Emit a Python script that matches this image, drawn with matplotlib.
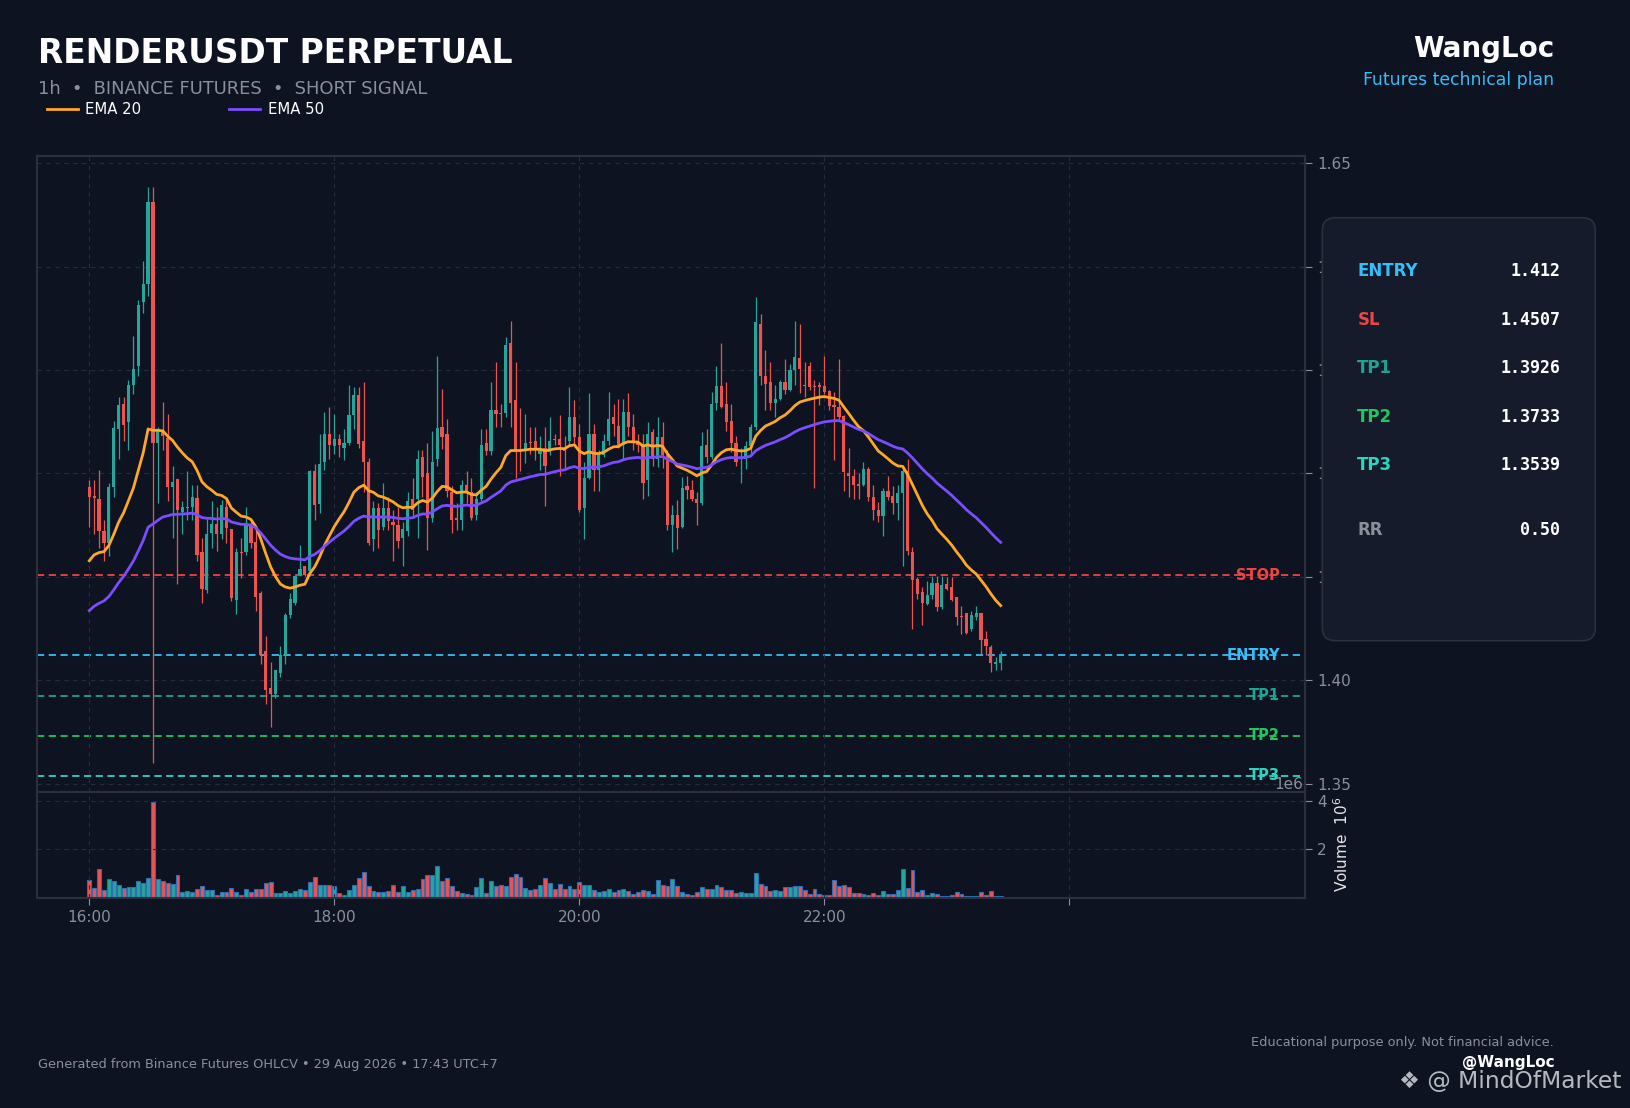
import numpy as np
import matplotlib
matplotlib.use("Agg")
import matplotlib.pyplot as plt
from matplotlib.lines import Line2D
from matplotlib.patches import FancyBboxPatch
from matplotlib.ticker import FuncFormatter

plt.rcParams["font.family"] = ["DejaVu Sans"]

# --- data ---
opens = [1.4937, 1.4893, 1.4877, 1.4720, 1.4663, 1.4937, 1.5214, 1.5338, 1.5248, 1.5428,
         1.5518, 1.5829, 1.5917, 1.6311, 1.5147, 1.5208, 1.5170, 1.4937, 1.4971, 1.4816,
         1.4834, 1.4838, 1.4882, 1.4618, 1.4438, 1.4713, 1.4758, 1.4708, 1.4839, 1.4731,
         1.4389, 1.4618, 1.4618, 1.4753, 1.4668, 1.4420, 1.4141, 1.3961, 1.3932, 1.4033,
         1.4123, 1.4315, 1.4375, 1.4510, 1.4551, 1.4528, 1.5012, 1.4854, 1.5057, 1.5192,
         1.5131, 1.5169, 1.5124, 1.5147, 1.5282, 1.5379, 1.5158, 1.5057, 1.4681, 1.4832,
         1.4742, 1.4832, 1.4765, 1.4749, 1.4686, 1.4720, 1.4877, 1.4877, 1.5080, 1.5000,
         1.4787, 1.5068, 1.5226, 1.5190, 1.4911, 1.4787, 1.4776, 1.4944, 1.4911, 1.4798,
         1.4877, 1.5147, 1.5109, 1.5309, 1.5293, 1.5293, 1.5631, 1.5356, 1.5113, 1.5113,
         1.5152, 1.5158, 1.5095, 1.5124, 1.5102, 1.5169, 1.5169, 1.5118, 1.5158, 1.5271,
         1.5176, 1.4832, 1.4978, 1.5190, 1.5019, 1.5091, 1.5158, 1.5271, 1.5230, 1.5140,
         1.5298, 1.5226, 1.5147, 1.5140, 1.4967, 1.5199, 1.5068, 1.5176, 1.5091, 1.4753,
         1.4798, 1.4742, 1.4938, 1.4918, 1.4877, 1.4855, 1.5140, 1.5080, 1.5343, 1.5422,
         1.5338, 1.5255, 1.5147, 1.5068, 1.5068, 1.5131, 1.5226, 1.5721, 1.5469, 1.5440,
         1.5343, 1.5361, 1.5440, 1.5406, 1.5500, 1.5559, 1.5428, 1.5518, 1.5424, 1.5428,
         1.5422, 1.5401, 1.5332, 1.5320, 1.5278, 1.5001, 1.4989, 1.4951, 1.4944, 1.5023,
         1.4888, 1.4821, 1.4794, 1.4915, 1.4893, 1.4855, 1.4906, 1.5012, 1.4618, 1.4488,
         1.4427, 1.4371, 1.4411, 1.4469, 1.4353, 1.4467, 1.4449, 1.4402, 1.4312, 1.4326,
         1.4247, 1.4308, 1.4326, 1.4200, 1.4159, 1.4078, 1.4083]
highs = [1.4967, 1.4967, 1.5019, 1.4776, 1.4955, 1.5253, 1.5372, 1.5372, 1.5450, 1.5665,
         1.5838, 1.6029, 1.6385, 1.6385, 1.5226, 1.5345, 1.5289, 1.5035, 1.4971, 1.4866,
         1.5010, 1.4944, 1.4944, 1.4686, 1.4780, 1.4866, 1.4839, 1.4870, 1.4870, 1.4731,
         1.4640, 1.4686, 1.4839, 1.4776, 1.4731, 1.4432, 1.4213, 1.4090, 1.4051, 1.4168,
         1.4326, 1.4420, 1.4507, 1.4652, 1.4555, 1.5019, 1.5046, 1.5192, 1.5298, 1.5320,
         1.5289, 1.5192, 1.5215, 1.5428, 1.5417, 1.5417, 1.5440, 1.5073, 1.4866, 1.4855,
         1.4956, 1.4888, 1.4825, 1.4839, 1.4765, 1.4911, 1.4978, 1.5113, 1.5113, 1.5147,
         1.5203, 1.5568, 1.5410, 1.5264, 1.4938, 1.4855, 1.4967, 1.5012, 1.4978, 1.4911,
         1.5215, 1.5215, 1.5440, 1.5541, 1.5338, 1.5658, 1.5739, 1.5541, 1.5316, 1.5289,
         1.5226, 1.5226, 1.5181, 1.5226, 1.5275, 1.5190, 1.5282, 1.5181, 1.5417, 1.5356,
         1.5237, 1.5057, 1.5388, 1.5237, 1.5113, 1.5192, 1.5395, 1.5334, 1.5361, 1.5361,
         1.5388, 1.5289, 1.5192, 1.5192, 1.5248, 1.5215, 1.5275, 1.5248, 1.5113, 1.4848,
         1.4870, 1.4982, 1.4989, 1.4967, 1.4911, 1.5199, 1.5215, 1.5395, 1.5518, 1.5631,
         1.5440, 1.5338, 1.5181, 1.5124, 1.5158, 1.5237, 1.5851, 1.5770, 1.5597, 1.5541,
         1.5428, 1.5450, 1.5552, 1.5530, 1.5739, 1.5721, 1.5541, 1.5541, 1.5450, 1.5440,
         1.5568, 1.5406, 1.5395, 1.5552, 1.5282, 1.5125, 1.5023, 1.5001, 1.5057, 1.5030,
         1.4944, 1.4862, 1.4929, 1.4990, 1.4938, 1.4944, 1.5035, 1.5068, 1.4645, 1.4501,
         1.4449, 1.4480, 1.4503, 1.4503, 1.4503, 1.4501, 1.4501, 1.4404, 1.4359, 1.4326,
         1.4337, 1.4359, 1.4326, 1.4236, 1.4173, 1.4114, 1.4141]
lows = [1.4742, 1.4708, 1.4640, 1.4578, 1.4600, 1.4888, 1.5068, 1.5158, 1.5113, 1.5383,
        1.5469, 1.5775, 1.5860, 1.3601, 1.4859, 1.5113, 1.4866, 1.4686, 1.4465, 1.4708,
        1.4776, 1.4776, 1.4578, 1.4375, 1.4420, 1.4640, 1.4623, 1.4681, 1.4663, 1.4382,
        1.4321, 1.4494, 1.4607, 1.4640, 1.4337, 1.4078, 1.3887, 1.3775, 1.3916, 1.4015,
        1.4078, 1.4303, 1.4366, 1.4506, 1.4506, 1.4506, 1.4776, 1.4810, 1.5019, 1.5068,
        1.5095, 1.5080, 1.5064, 1.5136, 1.5215, 1.5125, 1.4911, 1.4652, 1.4623, 1.4640,
        1.4726, 1.4726, 1.4578, 1.4640, 1.4551, 1.4697, 1.4787, 1.4690, 1.4888, 1.4630,
        1.4765, 1.5035, 1.5118, 1.4888, 1.4713, 1.4726, 1.4726, 1.4855, 1.4776, 1.4776,
        1.4866, 1.5091, 1.5091, 1.5226, 1.5226, 1.5271, 1.5226, 1.4978, 1.5012, 1.5049,
        1.5095, 1.5064, 1.5019, 1.4843, 1.5091, 1.5136, 1.4990, 1.5026, 1.5136, 1.5136,
        1.4816, 1.4681, 1.4973, 1.4915, 1.4915, 1.5080, 1.5136, 1.5181, 1.5124, 1.5068,
        1.5181, 1.5113, 1.5102, 1.4877, 1.4893, 1.5035, 1.5030, 1.5026, 1.4726, 1.4618,
        1.4636, 1.4735, 1.4877, 1.4866, 1.4749, 1.4848, 1.5051, 1.5068, 1.5305, 1.5316,
        1.5203, 1.5102, 1.5035, 1.4956, 1.5023, 1.5091, 1.5208, 1.5428, 1.5305, 1.5305,
        1.5275, 1.5356, 1.5383, 1.5401, 1.5428, 1.5388, 1.5372, 1.5406, 1.4928, 1.5329,
        1.5383, 1.5309, 1.5064, 1.5262, 1.4915, 1.4888, 1.4877, 1.4877, 1.4938, 1.4866,
        1.4776, 1.4765, 1.4697, 1.4870, 1.4803, 1.4776, 1.4555, 1.4607, 1.4247, 1.4393,
        1.4265, 1.4366, 1.4393, 1.4337, 1.4346, 1.4438, 1.4382, 1.4267, 1.4222, 1.4222,
        1.4236, 1.4293, 1.4128, 1.4123, 1.4038, 1.4052, 1.4052]
closes = [1.4887, 1.4880, 1.4720, 1.4663, 1.4937, 1.5219, 1.5329, 1.5233, 1.5428, 1.5507,
          1.5815, 1.5917, 1.6311, 1.5147, 1.5208, 1.5181, 1.4937, 1.4960, 1.4821, 1.4838,
          1.4838, 1.4888, 1.4607, 1.4443, 1.4708, 1.4758, 1.4708, 1.4848, 1.4735, 1.4398,
          1.4618, 1.4614, 1.4753, 1.4663, 1.4404, 1.4123, 1.3955, 1.3932, 1.4051, 1.4123,
          1.4315, 1.4393, 1.4506, 1.4539, 1.4510, 1.5012, 1.4848, 1.5046, 1.5192, 1.5136,
          1.5169, 1.5136, 1.5146, 1.5282, 1.5379, 1.5143, 1.5057, 1.4663, 1.4832, 1.4726,
          1.4832, 1.4771, 1.4749, 1.4674, 1.4731, 1.4866, 1.4821, 1.5068, 1.4983, 1.4787,
          1.5057, 1.5219, 1.5176, 1.4915, 1.4776, 1.4776, 1.4944, 1.4911, 1.4787, 1.4877,
          1.5140, 1.5109, 1.5309, 1.5289, 1.5289, 1.5620, 1.5343, 1.5113, 1.5109, 1.5147,
          1.5145, 1.5113, 1.5124, 1.5035, 1.5158, 1.5163, 1.5140, 1.5109, 1.5271, 1.5176,
          1.4825, 1.4978, 1.5192, 1.5019, 1.5091, 1.5158, 1.5264, 1.5237, 1.5140, 1.5298,
          1.5226, 1.5147, 1.5136, 1.4956, 1.5190, 1.5068, 1.5176, 1.5091, 1.4753, 1.4798,
          1.4738, 1.4929, 1.4922, 1.4877, 1.4855, 1.5131, 1.5080, 1.5338, 1.5422, 1.5323,
          1.5248, 1.5147, 1.5057, 1.5080, 1.5131, 1.5226, 1.5730, 1.5473, 1.5435, 1.5343,
          1.5361, 1.5440, 1.5406, 1.5500, 1.5563, 1.5507, 1.5424, 1.5417, 1.5417, 1.5417,
          1.5395, 1.5327, 1.5320, 1.5271, 1.5008, 1.4989, 1.4944, 1.4938, 1.5023, 1.4884,
          1.4821, 1.4794, 1.4915, 1.4884, 1.4855, 1.4906, 1.5012, 1.4623, 1.4483, 1.4416,
          1.4375, 1.4411, 1.4469, 1.4353, 1.4460, 1.4443, 1.4389, 1.4308, 1.4308, 1.4231,
          1.4314, 1.4326, 1.4196, 1.4164, 1.4083, 1.4087, 1.4123]
# volume in millions
volumes_m = [0.72, 0.42, 1.20, 0.30, 0.79, 0.68, 0.54, 0.42, 0.46, 0.46,
             0.68, 0.60, 0.83, 3.95, 0.79, 0.71, 0.63, 0.58, 0.95, 0.22,
             0.26, 0.22, 0.38, 0.50, 0.30, 0.30, 0.12, 0.22, 0.22, 0.42,
             0.22, 0.12, 0.34, 0.22, 0.34, 0.34, 0.63, 0.67, 0.18, 0.18,
             0.26, 0.18, 0.26, 0.38, 0.30, 0.67, 0.87, 0.54, 0.54, 0.54,
             0.48, 0.19, 0.10, 0.31, 0.54, 0.83, 1.06, 0.48, 0.29, 0.23,
             0.23, 0.29, 0.54, 0.23, 0.48, 0.23, 0.31, 0.35, 0.79, 0.93,
             0.93, 1.31, 0.68, 0.83, 0.48, 0.29, 0.19, 0.14, 0.10, 0.44,
             0.83, 0.19, 0.70, 0.50, 0.54, 0.50, 0.87, 0.99, 0.87, 0.41,
             0.31, 0.35, 0.54, 0.83, 0.60, 0.35, 0.58, 0.35, 0.48, 0.35,
             0.64, 0.52, 0.52, 0.31, 0.25, 0.29, 0.35, 0.23, 0.31, 0.35,
             0.29, 0.14, 0.23, 0.31, 0.29, 0.14, 0.73, 0.52, 0.48, 0.77,
             0.48, 0.25, 0.14, 0.10, 0.23, 0.44, 0.35, 0.35, 0.52, 0.44,
             0.31, 0.31, 0.19, 0.25, 0.19, 0.19, 1.02, 0.58, 0.50, 0.29,
             0.31, 0.29, 0.44, 0.44, 0.48, 0.48, 0.31, 0.14, 0.35, 0.14,
             0.10, 0.10, 0.73, 0.50, 0.54, 0.44, 0.19, 0.19, 0.15, 0.10,
             0.19, 0.10, 0.29, 0.14, 0.15, 0.31, 1.20, 0.41, 1.16, 0.25,
             0.31, 0.10, 0.19, 0.14, 0.06, 0.06, 0.10, 0.23, 0.14, 0.06,
             0.06, 0.06, 0.23, 0.10, 0.29, 0.06, 0.06]

time_labels = ["16:00", "18:00", "20:00", "22:00", ""]
time_positions = [0, 50, 100, 150, 200]
ema20_seed = 1.4578
ema50_seed = 1.4337

level_names = ["STOP", "ENTRY", "TP1", "TP2", "TP3"]
level_values = [1.4507, 1.412, 1.3926, 1.3733, 1.3539]
level_colors = ["#ef4444", "#38bdf8", "#1fa392", "#22c55e", "#2dd4bf"]

panel_labels = ["ENTRY", "SL", "TP1", "TP2", "TP3", "RR"]
panel_values = ["1.412", "1.4507", "1.3926", "1.3733", "1.3539", "0.50"]
panel_colors = ["#38bdf8", "#ef4444", "#1fa392", "#22c55e", "#2dd4bf", "#8b8f99"]

BG = "#0d1320"
UP = "#26a69a"
DOWN = "#ef5350"
GRID = "#262c3a"
TXT = "#8a909b"


def ema(values, span, seed):
    a = 2.0 / (span + 1)
    out = [seed]
    for v in values[1:]:
        out.append(a * v + (1 - a) * out[-1])
    return np.array(out)


o = np.array(opens)
h = np.array(highs)
l = np.array(lows)
c = np.array(closes)
vol = np.array(volumes_m) * 1e6
x = np.arange(len(c))
up = c >= o
cols = np.where(up, UP, DOWN)

fig = plt.figure(figsize=(16.31, 11.08), dpi=100, facecolor=BG)
ax = fig.add_axes([0.0229, 0.2856, 0.7775, 0.5736], facecolor=BG)
axv = fig.add_axes([0.0229, 0.1898, 0.7775, 0.0958], facecolor=BG, sharex=ax)

# level lines
for name, val, col in zip(level_names, level_values, level_colors):
    ax.axhline(val, color=col, lw=1.3, ls=(0, (4, 2.5)), zorder=1)
    ax.text(243, val, name, color=col, fontsize=10.5, fontweight="bold",
            ha="right", va="center", zorder=5)

# candles
ax.vlines(x, l, h, colors=cols, lw=0.9, zorder=2)
bodies = np.maximum(np.abs(c - o), 0.0004)
ax.bar(x, bodies, bottom=np.minimum(o, c), width=0.65, color=cols, lw=0, zorder=3)

# EMAs
ax.plot(x, ema(c, 20, ema20_seed), color="#ffa726", lw=2, zorder=4)
ax.plot(x, ema(c, 50, ema50_seed), color="#7c4dff", lw=2, zorder=4)

ax.set_xlim(-10.6, 248.2)
ax.set_ylim(1.3462, 1.6535)
ax.yaxis.tick_right()
ax.set_yticks([1.35, 1.40, 1.45, 1.50, 1.55, 1.60, 1.65])
ax.yaxis.set_major_formatter(FuncFormatter(lambda v, p: f"{v:.2f}"))
ax.tick_params(axis="y", colors=TXT, labelsize=11, length=5)
ax.tick_params(axis="x", length=0, labelbottom=False)
ax.set_xticks(time_positions)
ax.grid(True, color=GRID, ls=(0, (4, 4)), lw=0.8)

# volume
axv.bar(x, vol, width=0.8, color=cols, edgecolor="#2f6db5", lw=0.8)
axv.set_ylim(0, 4.4e6)
axv.yaxis.tick_right()
axv.set_yticks([2e6, 4e6])
axv.yaxis.set_major_formatter(FuncFormatter(lambda v, p: f"{v / 1e6:g}"))
axv.tick_params(axis="y", colors=TXT, labelsize=11, length=5)
axv.set_xticks(time_positions)
axv.set_xticklabels(time_labels)
axv.tick_params(axis="x", colors=TXT, labelsize=11, length=5)
axv.grid(True, color=GRID, ls=(0, (4, 4)), lw=0.8)
axv.yaxis.set_label_position("right")
axv.set_ylabel("Volume  $10^{6}$", color="#e6e6e6", fontsize=11)
axv.text(0.998, 1.0, "1e6", transform=axv.transAxes, ha="right", va="bottom",
         color=TXT, fontsize=11)

for a in (ax, axv):
    for s in a.spines.values():
        s.set_color("#2b303c")
        s.set_linewidth(1.5)

# header
fig.text(0.0236, 0.9427, "RENDERUSDT PERPETUAL", color="white", fontsize=23.7,
         fontweight="bold", va="baseline")
fig.text(0.0236, 0.9155, "1h  \u2022  BINANCE FUTURES  \u2022  SHORT SIGNAL",
         color=TXT, fontsize=12.9, va="baseline")
handles = [Line2D([], [], color="#ffa726", lw=2), Line2D([], [], color="#7c4dff", lw=2)]
fig.legend(handles, ["EMA 20", "EMA 50"], loc="center left",
           bbox_to_anchor=(0.0287, 0.9014), ncol=2, frameon=False,
           fontsize=10.7, labelcolor="white", handlelength=2.1,
           handletextpad=0.5, columnspacing=5.9, borderpad=0, borderaxespad=0)
fig.text(0.9529, 0.9484, "WangLoc", color="white", fontsize=20,
         fontweight="bold", ha="right", va="baseline")
fig.text(0.9529, 0.923, "Futures technical plan", color="#38bdf8", fontsize=12.4,
         ha="right", va="baseline")

# info panel
panel = FancyBboxPatch((13.223, 4.673), 2.73, 4.23,
                       boxstyle="round,pad=0,rounding_size=0.13",
                       transform=fig.dpi_scale_trans, facecolor="#151b2a",
                       edgecolor="#283042", lw=1.2, zorder=10)
fig.patches.append(panel)
row_y = [0.7554, 0.7112, 0.6676, 0.6239, 0.5803, 0.5217]
for lab, val, col, yy in zip(panel_labels, panel_values, panel_colors, row_y):
    fig.text(0.8322, yy, lab, color=col, fontsize=12, fontweight="bold",
             va="center", zorder=11)
    fig.text(0.9565, yy, val, color="white", fontsize=12, fontweight="bold",
             family="DejaVu Sans Mono", ha="right", va="center", zorder=11)

# footer
fig.text(0.0236, 0.0397,
         "Generated from Binance Futures OHLCV \u2022 29 Aug 2026 \u2022 17:43 UTC+7",
         color=TXT, fontsize=9.3, va="center")
fig.text(0.9529, 0.0593, "Educational purpose only. Not financial advice.",
         color=TXT, fontsize=9.3, ha="right", va="center")
fig.text(0.9529, 0.0415, "@WangLoc", color="white", fontsize=11,
         fontweight="bold", ha="right", va="center")
fig.text(0.994, 0.0235, "\u2756 @ MindOfMarket", color="#c9ccd1", fontsize=16.8,
         ha="right", va="center", alpha=0.9)

fig.savefig("out.png", dpi=100, facecolor=BG)
